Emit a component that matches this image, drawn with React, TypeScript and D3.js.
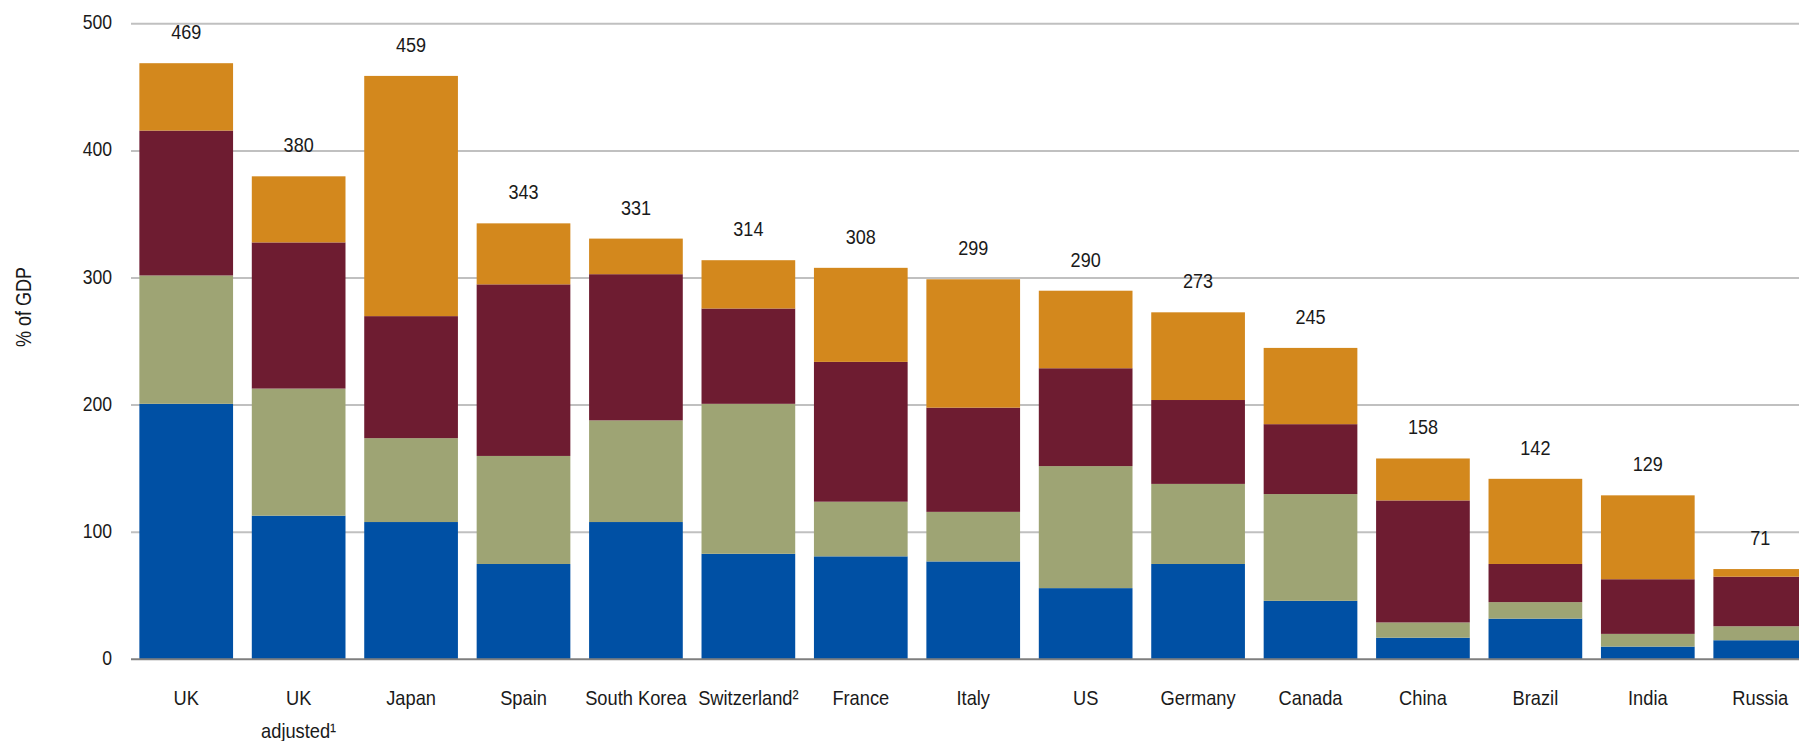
import React from "react";
import * as d3 from "d3";

const categories = ["UK", "UK adjusted¹", "Japan", "Spain", "South Korea", "Switzerland²", "France", "Italy", "US", "Germany", "Canada", "China", "Brazil", "India", "Russia"];
const categoryLines = [["UK"], ["UK", "adjusted¹"], ["Japan"], ["Spain"], ["South Korea"], ["Switzerland²"], ["France"], ["Italy"], ["US"], ["Germany"], ["Canada"], ["China"], ["Brazil"], ["India"], ["Russia"]];
const seriesNames = ["Financial", "Households", "Non-financial corporates", "Government"];
const financial = [201, 113, 108, 75, 108, 83, 81, 77, 56, 75, 46, 17, 32, 10, 15];
const households = [101, 100, 66, 85, 80, 118, 43, 39, 96, 63, 84, 12, 13, 10, 11];
const corporates = [114, 115, 96, 135, 115, 75, 110, 82, 77, 66, 55, 96, 30, 43, 39];
const government = [53, 52, 189, 48, 28, 38, 74, 101, 61, 69, 60, 33, 67, 66, 6];
const totals = [469, 380, 459, 343, 331, 314, 308, 299, 290, 273, 245, 158, 142, 129, 71];
const yTicks = [0, 100, 200, 300, 400, 500];
const colors = ["#0050A4", "#9EA474", "#6E1C31", "#D3881D"];

const W = 1799;
const H = 741;
const FONT = "'Liberation Sans', Arial, sans-serif";

export default function App() {
  const x = d3.scaleBand<string>().domain(categories).range([130, 130 + 15 * 112.43]).paddingInner(0.1666).paddingOuter(0.0833);
  const y = d3.scaleLinear().domain([0, 500]).range([659.3, 23.8]);
  const rows = categories.map((c, i) => ({ cat: c, s0: financial[i], s1: households[i], s2: corporates[i], s3: government[i] }));
  const stack = d3.stack<any>().keys(["s0", "s1", "s2", "s3"]);
  const layers = stack(rows);

  return (
    <svg width={W} height={H} style={{ position: "absolute", left: 0, top: 0, background: "#fff" }} fontFamily={FONT}>
      {yTicks.filter((t) => t > 0).map((t) => (
        <line key={t} x1={131} x2={W} y1={y(t)} y2={y(t)} stroke="#c0c0c0" strokeWidth={2} />
      ))}
      {layers.map((layer, li) => (
        <g key={li} fill={colors[li]}>
          <title>{seriesNames[li]}</title>
          {layer.map((d, i) => (
            <rect key={i} x={x(categories[i])} width={x.bandwidth()} y={y(d[1])} height={y(d[0]) - y(d[1])} />
          ))}
        </g>
      ))}
      <line x1={131} x2={W} y1={y(0)} y2={y(0)} stroke="#7f7f7f" strokeWidth={2} />
      {yTicks.map((t) => (
        <text key={t} transform={`translate(112,${y(t) + 5.5}) scale(0.88,1)`} textAnchor="end" fontSize={20} fill="#1a1a1a">{t}</text>
      ))}
      <text transform="translate(31,307) rotate(-90) scale(0.82,1)" textAnchor="middle" fontSize={22} fill="#1a1a1a">% of GDP</text>
      {categories.map((c, i) => (
        <text key={c} transform={`translate(${(x(c) as number) + x.bandwidth() / 2},${y(totals[i]) - 24}) scale(0.86,1)`} textAnchor="middle" fontSize={21} fill="#1a1a1a">{totals[i]}</text>
      ))}
      {categories.map((c, i) => (
        <g key={c} transform={`translate(${(x(c) as number) + x.bandwidth() / 2},0)`}>
          {categoryLines[i].map((ln, k) => (
            <text key={k} transform={`translate(0,${705 + k * 33}) scale(0.87,1)`} textAnchor="middle" fontSize={21} fill="#1a1a1a">{ln}</text>
          ))}
        </g>
      ))}
    </svg>
  );
}
